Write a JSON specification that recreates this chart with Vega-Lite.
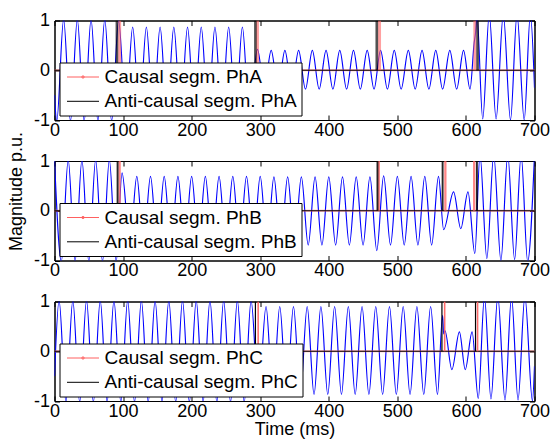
{
  "$schema": "https://vega.github.io/schema/vega-lite/v6.json",
  "padding": {"left": 6.5, "top": 10.5, "right": 5, "bottom": 5},
  "background": "white",
  "datasets": {
    "wave": [
      {"p":"A","t":0,"v":-0.5},{"p":"A","t":3.3,"v":-1.02},{"p":"A","t":13.3,"v":1.02},{"p":"A","t":23.3,"v":-1.02},{"p":"A","t":33.3,"v":1.02},{"p":"A","t":43.3,"v":-1.02},{"p":"A","t":53.3,"v":1.02},{"p":"A","t":63.3,"v":-1.02},{"p":"A","t":73.3,"v":1.02},{"p":"A","t":83.3,"v":-1.02},
      {"p":"A","t":93.5,"v":1.0},{"p":"A","t":104,"v":-0.87},{"p":"A","t":114,"v":0.87},{"p":"A","t":124,"v":-0.87},{"p":"A","t":134,"v":0.87},{"p":"A","t":144,"v":-0.87},{"p":"A","t":154,"v":0.87},{"p":"A","t":164,"v":-0.87},{"p":"A","t":174,"v":0.87},{"p":"A","t":184,"v":-0.87},{"p":"A","t":194,"v":0.87},{"p":"A","t":204,"v":-0.87},{"p":"A","t":214,"v":0.87},{"p":"A","t":224,"v":-0.87},{"p":"A","t":234,"v":0.87},{"p":"A","t":244,"v":-0.87},{"p":"A","t":254,"v":0.87},{"p":"A","t":264,"v":-0.87},{"p":"A","t":274,"v":0.87},{"p":"A","t":284,"v":-0.87},
      {"p":"A","t":296,"v":0.42},{"p":"A","t":306,"v":-0.38},{"p":"A","t":316,"v":0.4},{"p":"A","t":326,"v":-0.38},{"p":"A","t":336,"v":0.4},{"p":"A","t":346,"v":-0.38},{"p":"A","t":356,"v":0.4},{"p":"A","t":366,"v":-0.38},{"p":"A","t":376,"v":0.4},{"p":"A","t":386,"v":-0.38},{"p":"A","t":396,"v":0.4},{"p":"A","t":406,"v":-0.38},{"p":"A","t":416,"v":0.4},{"p":"A","t":426,"v":-0.38},{"p":"A","t":436,"v":0.4},{"p":"A","t":446,"v":-0.38},{"p":"A","t":456,"v":0.4},{"p":"A","t":466,"v":-0.38},
      {"p":"A","t":475.5,"v":0.4},{"p":"A","t":485.5,"v":-0.38},{"p":"A","t":495.5,"v":0.4},{"p":"A","t":505.5,"v":-0.38},{"p":"A","t":516,"v":0.4},{"p":"A","t":526,"v":-0.38},{"p":"A","t":536,"v":0.4},{"p":"A","t":546,"v":-0.38},{"p":"A","t":556,"v":0.4},{"p":"A","t":566,"v":-0.38},{"p":"A","t":576.5,"v":0.4},{"p":"A","t":586.5,"v":-0.38},{"p":"A","t":596.5,"v":0.4},{"p":"A","t":606,"v":-0.38},
      {"p":"A","t":612,"v":0.55},{"p":"A","t":614,"v":0.75},{"p":"A","t":616,"v":1.12},{"p":"A","t":624.5,"v":-0.98},{"p":"A","t":634,"v":1.12},{"p":"A","t":644,"v":-0.98},{"p":"A","t":654.5,"v":1.12},{"p":"A","t":665,"v":-1.0},{"p":"A","t":674.5,"v":1.12},{"p":"A","t":685,"v":-1.0},{"p":"A","t":694,"v":1.12},{"p":"A","t":700,"v":-0.35},

      {"p":"B","t":0,"v":1.02},{"p":"B","t":10,"v":-1.02},{"p":"B","t":20,"v":1.02},{"p":"B","t":30,"v":-1.02},{"p":"B","t":40,"v":1.02},{"p":"B","t":50,"v":-1.02},{"p":"B","t":60,"v":1.02},{"p":"B","t":70,"v":-1.02},{"p":"B","t":80,"v":1.02},{"p":"B","t":90,"v":-1.02},
      {"p":"B","t":98.5,"v":0.76},{"p":"B","t":110,"v":-0.69},{"p":"B","t":120,"v":0.69},{"p":"B","t":130,"v":-0.69},{"p":"B","t":140,"v":0.69},{"p":"B","t":150,"v":-0.69},{"p":"B","t":160,"v":0.69},{"p":"B","t":170,"v":-0.69},{"p":"B","t":180,"v":0.69},{"p":"B","t":190,"v":-0.69},{"p":"B","t":200,"v":0.69},{"p":"B","t":210,"v":-0.69},{"p":"B","t":220,"v":0.69},{"p":"B","t":230,"v":-0.69},{"p":"B","t":240,"v":0.69},{"p":"B","t":250,"v":-0.69},{"p":"B","t":260,"v":0.69},{"p":"B","t":270,"v":-0.69},{"p":"B","t":280,"v":0.69},{"p":"B","t":290,"v":-0.69},
      {"p":"B","t":300,"v":0.69},{"p":"B","t":310,"v":-0.69},{"p":"B","t":320,"v":0.68},{"p":"B","t":330,"v":-0.69},{"p":"B","t":340,"v":0.68},{"p":"B","t":350,"v":-0.69},{"p":"B","t":360,"v":0.68},{"p":"B","t":370,"v":-0.69},{"p":"B","t":380,"v":0.68},{"p":"B","t":390,"v":-0.69},{"p":"B","t":400,"v":0.68},{"p":"B","t":410,"v":-0.69},{"p":"B","t":420,"v":0.68},{"p":"B","t":430,"v":-0.69},{"p":"B","t":440,"v":0.68},{"p":"B","t":450,"v":-0.69},{"p":"B","t":460,"v":0.68},{"p":"B","t":470,"v":-0.8},
      {"p":"B","t":480,"v":0.7},{"p":"B","t":490,"v":-0.69},{"p":"B","t":500,"v":0.69},{"p":"B","t":510,"v":-0.69},{"p":"B","t":520,"v":0.69},{"p":"B","t":530,"v":-0.69},{"p":"B","t":540,"v":0.69},{"p":"B","t":550,"v":-0.69},{"p":"B","t":560,"v":0.69},
      {"p":"B","t":567.5,"v":-0.38},{"p":"B","t":582,"v":0.38},{"p":"B","t":592.5,"v":-0.36},{"p":"B","t":603,"v":0.38},{"p":"B","t":613,"v":-0.86},
      {"p":"B","t":620.5,"v":1.12},{"p":"B","t":630.5,"v":-0.96},{"p":"B","t":640.5,"v":1.12},{"p":"B","t":651,"v":-1.0},{"p":"B","t":661,"v":1.12},{"p":"B","t":671,"v":-0.98},{"p":"B","t":680.5,"v":1.12},{"p":"B","t":690,"v":-1.02},{"p":"B","t":700,"v":1.12},

      {"p":"C","t":0,"v":-0.5},{"p":"C","t":6.7,"v":1.02},{"p":"C","t":16.7,"v":-1.02},{"p":"C","t":26.7,"v":1.02},{"p":"C","t":36.7,"v":-1.02},{"p":"C","t":46.7,"v":1.02},{"p":"C","t":56.7,"v":-1.02},{"p":"C","t":66.7,"v":1.02},{"p":"C","t":76.7,"v":-1.02},{"p":"C","t":86.7,"v":1.02},{"p":"C","t":96.7,"v":-1.02},{"p":"C","t":106.7,"v":1.02},{"p":"C","t":116.7,"v":-1.02},{"p":"C","t":126.7,"v":1.02},{"p":"C","t":136.7,"v":-1.02},{"p":"C","t":146.7,"v":1.02},{"p":"C","t":156.7,"v":-1.02},{"p":"C","t":166.7,"v":1.02},{"p":"C","t":176.7,"v":-1.02},{"p":"C","t":186.7,"v":1.02},{"p":"C","t":196.7,"v":-1.02},{"p":"C","t":206.7,"v":1.02},{"p":"C","t":216.7,"v":-1.02},{"p":"C","t":226.7,"v":1.02},{"p":"C","t":236.7,"v":-1.02},{"p":"C","t":246.7,"v":1.02},{"p":"C","t":256.7,"v":-1.02},{"p":"C","t":266.7,"v":1.02},{"p":"C","t":276.7,"v":-1.02},{"p":"C","t":286.7,"v":1.02},
      {"p":"C","t":297.5,"v":-0.9},{"p":"C","t":308.5,"v":0.9},{"p":"C","t":318.5,"v":-0.87},{"p":"C","t":328.5,"v":0.9},{"p":"C","t":338.5,"v":-0.87},{"p":"C","t":348.5,"v":0.9},{"p":"C","t":358.5,"v":-0.87},{"p":"C","t":368.5,"v":0.9},{"p":"C","t":378.5,"v":-0.87},{"p":"C","t":388.5,"v":0.9},{"p":"C","t":398.5,"v":-0.87},{"p":"C","t":408.5,"v":0.9},{"p":"C","t":418.5,"v":-0.87},{"p":"C","t":428.5,"v":0.9},{"p":"C","t":438.5,"v":-0.87},{"p":"C","t":448.5,"v":0.9},{"p":"C","t":458.5,"v":-0.87},{"p":"C","t":468.5,"v":0.9},{"p":"C","t":478.5,"v":-0.87},{"p":"C","t":488.5,"v":0.9},{"p":"C","t":498.5,"v":-0.87},{"p":"C","t":508.5,"v":0.9},{"p":"C","t":518.5,"v":-0.87},{"p":"C","t":528.5,"v":0.9},{"p":"C","t":538.5,"v":-0.87},{"p":"C","t":548.5,"v":0.9},{"p":"C","t":558.5,"v":-0.87},
      {"p":"C","t":566,"v":0.72},{"p":"C","t":567.5,"v":0.35},{"p":"C","t":569.5,"v":0.41},{"p":"C","t":579.5,"v":-0.37},{"p":"C","t":590.5,"v":0.39},{"p":"C","t":599,"v":-0.37},{"p":"C","t":609,"v":0.39},
      {"p":"C","t":618,"v":-0.95},{"p":"C","t":627,"v":1.1},{"p":"C","t":636.5,"v":-0.96},{"p":"C","t":646.5,"v":1.1},{"p":"C","t":657,"v":-0.98},{"p":"C","t":666.5,"v":1.1},{"p":"C","t":676,"v":-0.98},{"p":"C","t":686,"v":1.1},{"p":"C","t":697,"v":-1.0},{"p":"C","t":700,"v":-0.3}
    ],
    "segs": [
      {"p":"A","kind":"Causal segm. PhA","t":95},{"p":"A","kind":"Causal segm. PhA","t":296},{"p":"A","kind":"Causal segm. PhA","t":474},{"p":"A","kind":"Causal segm. PhA","t":613},
      {"p":"A","kind":"Anti-causal segm. PhA","t":91},{"p":"A","kind":"Anti-causal segm. PhA","t":293},{"p":"A","kind":"Anti-causal segm. PhA","t":470},{"p":"A","kind":"Anti-causal segm. PhA","t":617},
      {"p":"B","kind":"Causal segm. PhB","t":95},{"p":"B","kind":"Causal segm. PhB","t":473},{"p":"B","kind":"Causal segm. PhB","t":570},{"p":"B","kind":"Causal segm. PhB","t":612},
      {"p":"B","kind":"Anti-causal segm. PhB","t":92},{"p":"B","kind":"Anti-causal segm. PhB","t":471},{"p":"B","kind":"Anti-causal segm. PhB","t":566},{"p":"B","kind":"Anti-causal segm. PhB","t":616},
      {"p":"C","kind":"Causal segm. PhC","t":297},{"p":"C","kind":"Causal segm. PhC","t":569},{"p":"C","kind":"Causal segm. PhC","t":617},
      {"p":"C","kind":"Anti-causal segm. PhC","t":293},{"p":"C","kind":"Anti-causal segm. PhC","t":565},{"p":"C","kind":"Anti-causal segm. PhC","t":614}
    ],
    "zero": [{"level": 0}]
  },
  "spacing": 40.5,
  "bounds": "flush",
  "resolve": {"scale": {"color": "independent"}, "legend": {"color": "independent"}},
  "vconcat": [
    {
      "width": 480, "height": 99.5,
      "layer": [
        {
          "data": {"name": "wave"},
          "transform": [{"filter": "datum.p === 'A'"}],
          "mark": {"type": "line", "clip": true, "interpolate": "monotone", "color": "#0000ff", "strokeWidth": 1.15},
          "encoding": {
            "x": {"field": "t", "type": "quantitative", "scale": {"domain": [0, 700], "nice": false, "zero": false},
                  "axis": {"orient": "bottom", "values": [0,100,200,300,400,500,600,700], "title": null, "labelPadding": 6}},
            "y": {"field": "v", "type": "quantitative", "scale": {"domain": [-1, 1], "nice": false},
                  "axis": {"orient": "left", "values": [-1,0,1], "labelExpr": "'' + datum.value", "title": null, "labelPadding": 10}}
          }
        },
        {
          "data": {"name": "zero"},
          "mark": {"type": "rule", "color": "#ff7070", "strokeWidth": 2, "opacity": 0.6},
          "encoding": {"y": {"field": "level", "type": "quantitative", "axis": null}}
        },
        {
          "data": {"name": "zero"},
          "mark": {"type": "rule", "color": "black", "strokeWidth": 1},
          "encoding": {"y": {"field": "level", "type": "quantitative", "axis": null}}
        },
        {
          "data": {"name": "segs"},
          "transform": [{"filter": "datum.p === 'A'"}],
          "mark": {"type": "rule", "clip": true},
          "encoding": {
            "x": {"field": "t", "type": "quantitative", "axis": {"orient": "top", "values": [0,100,200,300,400,500,600,700], "labels": false, "title": null}},
            "y": {"datum": 0, "type": "quantitative", "axis": {"orient": "right", "values": [-1,0,1], "labels": false, "title": null}},
            "y2": {"datum": 1},
            "color": {"field": "kind", "type": "nominal", "scale": {"domain": ["Causal segm. PhA", "Anti-causal segm. PhA"], "range": ["#ff6060", "#000000"]},
                      "legend": {"orient": "bottom-left", "encode": {"symbols": {"update": {"shape": {"signal": "indexof(datum.value, 'Anti') === 0 ? 'M-1.6,0H1.6' : 'M-1.6,0H1.6M0.12,0A0.12,0.12,0,1,1,-0.12,0A0.12,0.12,0,1,1,0.12,0'"}}}}}},
            "strokeWidth": {"field": "kind", "type": "nominal", "scale": {"domain": ["Causal segm. PhA", "Anti-causal segm. PhA"], "range": [3, 1.2]}, "legend": null},
            "opacity": {"field": "kind", "type": "nominal", "scale": {"domain": ["Causal segm. PhA", "Anti-causal segm. PhA"], "range": [0.6, 1]}, "legend": null}
          }
        }
      ],
      "resolve": {"axis": {"x": "independent", "y": "independent"}}
    },
    {
      "width": 480, "height": 99.5,
      "layer": [
        {
          "data": {"name": "wave"},
          "transform": [{"filter": "datum.p === 'B'"}],
          "mark": {"type": "line", "clip": true, "interpolate": "monotone", "color": "#0000ff", "strokeWidth": 1.15},
          "encoding": {
            "x": {"field": "t", "type": "quantitative", "scale": {"domain": [0, 700], "nice": false, "zero": false},
                  "axis": {"orient": "bottom", "values": [0,100,200,300,400,500,600,700], "title": null, "labelPadding": 6}},
            "y": {"field": "v", "type": "quantitative", "scale": {"domain": [-1, 1], "nice": false},
                  "axis": {"orient": "left", "values": [-1,0,1], "labelExpr": "'' + datum.value", "title": "Magnitude p.u.", "labelPadding": 10, "titlePadding": 8, "titleY": 30}}
          }
        },
        {
          "data": {"name": "zero"},
          "mark": {"type": "rule", "color": "#ff7070", "strokeWidth": 2, "opacity": 0.6},
          "encoding": {"y": {"field": "level", "type": "quantitative", "axis": null}}
        },
        {
          "data": {"name": "zero"},
          "mark": {"type": "rule", "color": "black", "strokeWidth": 1},
          "encoding": {"y": {"field": "level", "type": "quantitative", "axis": null}}
        },
        {
          "data": {"name": "segs"},
          "transform": [{"filter": "datum.p === 'B'"}],
          "mark": {"type": "rule", "clip": true},
          "encoding": {
            "x": {"field": "t", "type": "quantitative", "axis": {"orient": "top", "values": [0,100,200,300,400,500,600,700], "labels": false, "title": null}},
            "y": {"datum": 0, "type": "quantitative", "axis": {"orient": "right", "values": [-1,0,1], "labels": false, "title": null}},
            "y2": {"datum": 1},
            "color": {"field": "kind", "type": "nominal", "scale": {"domain": ["Causal segm. PhB", "Anti-causal segm. PhB"], "range": ["#ff6060", "#000000"]},
                      "legend": {"orient": "bottom-left", "encode": {"symbols": {"update": {"shape": {"signal": "indexof(datum.value, 'Anti') === 0 ? 'M-1.6,0H1.6' : 'M-1.6,0H1.6M0.12,0A0.12,0.12,0,1,1,-0.12,0A0.12,0.12,0,1,1,0.12,0'"}}}}}},
            "strokeWidth": {"field": "kind", "type": "nominal", "scale": {"domain": ["Causal segm. PhB", "Anti-causal segm. PhB"], "range": [3, 1.2]}, "legend": null},
            "opacity": {"field": "kind", "type": "nominal", "scale": {"domain": ["Causal segm. PhB", "Anti-causal segm. PhB"], "range": [0.6, 1]}, "legend": null}
          }
        }
      ],
      "resolve": {"axis": {"x": "independent", "y": "independent"}}
    },
    {
      "width": 480, "height": 99.5,
      "layer": [
        {
          "data": {"name": "wave"},
          "transform": [{"filter": "datum.p === 'C'"}],
          "mark": {"type": "line", "clip": true, "interpolate": "monotone", "color": "#0000ff", "strokeWidth": 1.15},
          "encoding": {
            "x": {"field": "t", "type": "quantitative", "scale": {"domain": [0, 700], "nice": false, "zero": false},
                  "axis": {"orient": "bottom", "values": [0,100,200,300,400,500,600,700], "title": "Time (ms)", "labelPadding": 6, "titlePadding": 0}},
            "y": {"field": "v", "type": "quantitative", "scale": {"domain": [-1, 1], "nice": false},
                  "axis": {"orient": "left", "values": [-1,0,1], "labelExpr": "'' + datum.value", "title": null, "labelPadding": 10}}
          }
        },
        {
          "data": {"name": "zero"},
          "mark": {"type": "rule", "color": "#ff7070", "strokeWidth": 2, "opacity": 0.6},
          "encoding": {"y": {"field": "level", "type": "quantitative", "axis": null}}
        },
        {
          "data": {"name": "zero"},
          "mark": {"type": "rule", "color": "black", "strokeWidth": 1},
          "encoding": {"y": {"field": "level", "type": "quantitative", "axis": null}}
        },
        {
          "data": {"name": "segs"},
          "transform": [{"filter": "datum.p === 'C'"}],
          "mark": {"type": "rule", "clip": true},
          "encoding": {
            "x": {"field": "t", "type": "quantitative", "axis": {"orient": "top", "values": [0,100,200,300,400,500,600,700], "labels": false, "title": null}},
            "y": {"datum": 0, "type": "quantitative", "axis": {"orient": "right", "values": [-1,0,1], "labels": false, "title": null}},
            "y2": {"datum": 1},
            "color": {"field": "kind", "type": "nominal", "scale": {"domain": ["Causal segm. PhC", "Anti-causal segm. PhC"], "range": ["#ff6060", "#000000"]},
                      "legend": {"orient": "bottom-left", "encode": {"symbols": {"update": {"shape": {"signal": "indexof(datum.value, 'Anti') === 0 ? 'M-1.6,0H1.6' : 'M-1.6,0H1.6M0.12,0A0.12,0.12,0,1,1,-0.12,0A0.12,0.12,0,1,1,0.12,0'"}}}}}},
            "strokeWidth": {"field": "kind", "type": "nominal", "scale": {"domain": ["Causal segm. PhC", "Anti-causal segm. PhC"], "range": [3, 1.2]}, "legend": null},
            "opacity": {"field": "kind", "type": "nominal", "scale": {"domain": ["Causal segm. PhC", "Anti-causal segm. PhC"], "range": [0.6, 1]}, "legend": null}
          }
        }
      ],
      "resolve": {"axis": {"x": "independent", "y": "independent"}}
    }
  ],
  "config": {
    "font": "Liberation Sans",
    "view": {"stroke": "black", "strokeWidth": 1},
    "axis": {
      "domainColor": "black", "tickColor": "black", "labelColor": "black", "titleColor": "black",
      "labelFont": "Liberation Sans", "labelFontSize": 18, "titleFont": "Liberation Sans", "titleFontSize": 18, "titleFontWeight": "normal",
      "grid": false, "labelFlush": false, "labelOverlap": false, "tickSize": -5
    },
    "legend": {
      "title": null, "offset": 4.5, "fillColor": "white", "strokeColor": "black", "strokeWidth": 1, "padding": 4,
      "symbolType": "M-1.6,0H1.6", "symbolSize": 400, "symbolOffset": 9, "symbolStrokeWidth": 1, "symbolOpacity": 1,
      "labelOffset": 11, "rowPadding": 3.3, "labelFont": "Liberation Sans", "labelFontSize": 19, "labelColor": "black", "labelLimit": 400
    }
  }
}
